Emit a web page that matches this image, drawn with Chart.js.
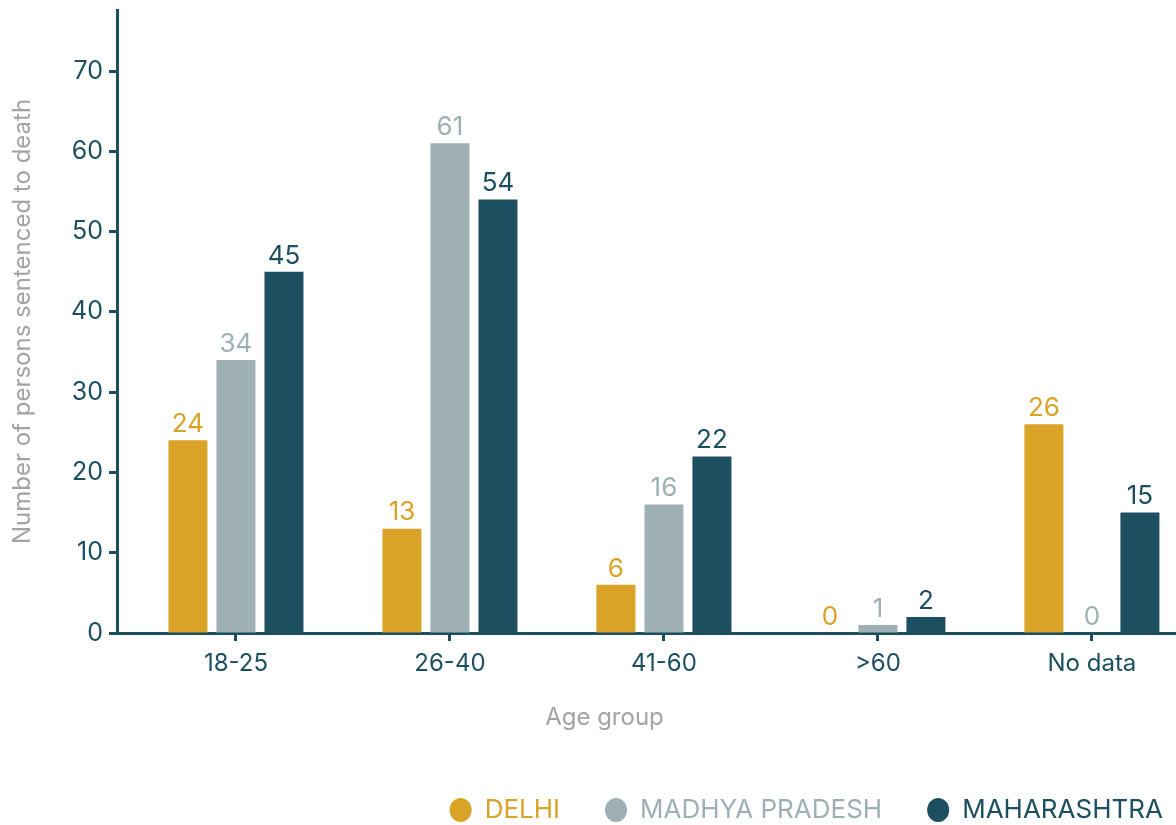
<!DOCTYPE html>
<html>
<head>
<meta charset="utf-8">
<title>Persons sentenced to death by age group</title>
<script src="https://cdn.jsdelivr.net/npm/chart.js@4"></script>
<style>
  html, body { margin: 0; padding: 0; background: #fff; }
  #wrap { width: 1176px; height: 825px; position: relative; }
</style>
</head>
<body>
<div id="wrap"><canvas id="ageChart"></canvas></div>
<script>
// ── Data ───────────────────────────────────────────────────
const ageGroups   = ['18-25', '26-40', '41-60', '>60', 'No data'];
const delhi       = [24, 13, 6, 0, 26];
const madhya      = [34, 61, 16, 1, 0];
const maharashtra = [45, 54, 22, 2, 15];
const yTicks      = [0, 10, 20, 30, 40, 50, 60, 70];
const xTitle      = 'Age group';

// ── Palette / type ─────────────────────────────────────────
const TEAL  = '#1c4f5f';
const GOLD  = '#d9a327';
const GREY  = '#9eb0b3';
const MUTED = '#a3a3a3';
const FAMILY = 'Inter, "Open Sans", sans-serif';
const font = { family: FAMILY, size: 24, weight: '400' };

const toPoints = arr => arr.map((v, i) => ({ x: i, y: v }));

// value printed above every bar, in the series colour
const barLabels = {
  id: 'barLabels',
  afterDatasetsDraw(chart) {
    const ctx = chart.ctx;
    ctx.save();
    ctx.font = `400 26px ${FAMILY}`;
    ctx.textAlign = 'center';
    ctx.textBaseline = 'bottom';
    chart.data.datasets.forEach((ds, di) => {
      chart.getDatasetMeta(di).data.forEach((bar, i) => {
        ctx.fillStyle = ds.backgroundColor;
        ctx.fillText(ds.data[i].y, bar.x, bar.y - 3);
      });
    });
    ctx.restore();
  }
};

// x title centred between the y axis and the last group
const xAxisTitle = {
  id: 'xAxisTitle',
  afterDraw(chart) {
    const s = chart.scales.x;
    const ctx = chart.ctx;
    const cx = (s.left + s.getPixelForTick(s.ticks.length - 1)) / 2;
    ctx.save();
    ctx.font = `400 24px ${FAMILY}`;
    ctx.fillStyle = MUTED;
    ctx.textAlign = 'center';
    ctx.textBaseline = 'middle';
    ctx.fillText(xTitle, cx, s.bottom - 34);
    ctx.restore();
  }
};

// legend sits a little lower and further right than the default box
const legendNudge = {
  id: 'legendNudge',
  beforeInit(chart) {
    const fit = chart.legend.fit;
    chart.legend.fit = function () { fit.call(this); this.height -= 8; };
  },
  afterLayout(chart) {
    chart.legend.right += 32;
  }
};

new Chart(document.getElementById('ageChart'), {
  type: 'bar',
  data: {
    datasets: [
      { label: 'DELHI',          data: toPoints(delhi),       backgroundColor: GOLD },
      { label: 'MADHYA PRADESH', data: toPoints(madhya),      backgroundColor: GREY },
      { label: 'MAHARASHTRA',    data: toPoints(maharashtra), backgroundColor: TEAL }
    ]
  },
  options: {
    responsive: true,
    maintainAspectRatio: false,
    animation: false,
    categoryPercentage: 0.673,
    barPercentage: 0.8125,
    layout: { padding: { top: 10, right: 0, left: 0, bottom: 0 } },
    plugins: {
      tooltip: { enabled: false },
      legend: {
        position: 'bottom',
        align: 'end',
        labels: {
          usePointStyle: true,
          pointStyle: 'circle',
          pointStyleWidth: 22,
          boxHeight: 17,
          padding: 45,
          font: { ...font, size: 26 },
          generateLabels: chart => chart.data.datasets.map((ds, i) => ({
            text: ds.label,
            fillStyle: ds.backgroundColor,
            strokeStyle: ds.backgroundColor,
            fontColor: ds.backgroundColor,
            lineWidth: 0,
            pointStyle: 'circle',
            datasetIndex: i,
            hidden: false
          }))
        }
      }
    },
    scales: {
      x: {
        type: 'linear',
        min: -0.556,
        max: 4.393,
        offset: false,
        z: 1,
        afterBuildTicks: s => { s.ticks = ageGroups.map((_, i) => ({ value: i })); },
        afterFit: s => { s.height = 119; s.paddingLeft = 0; s.paddingRight = 0; },
        ticks: {
          callback: v => ageGroups[v],
          color: TEAL, font, padding: 8,
          autoSkip: false, maxRotation: 0
        },
        grid: { drawOnChartArea: false, offset: false, tickLength: 8, tickWidth: 3, tickColor: TEAL },
        border: { color: TEAL, width: 3 }
      },
      y: {
        min: 0,
        max: 77.6,
        afterBuildTicks: s => { s.ticks = yTicks.map(v => ({ value: v })); },
        afterFit: s => { s.width = 117; s.paddingTop = 0; s.paddingBottom = 0; },
        ticks: { color: TEAL, font: { ...font, size: 25 }, padding: 6 },
        grid: { drawOnChartArea: false, tickLength: 8, tickWidth: 3, tickColor: TEAL },
        border: { color: TEAL, width: 3 },
        title: {
          display: true, text: 'Number of persons sentenced to death', color: MUTED, font,
          padding: { top: 8, bottom: 0 }
        }
      }
    }
  },
  plugins: [barLabels, xAxisTitle, legendNudge]
});
</script>
</body>
</html>
